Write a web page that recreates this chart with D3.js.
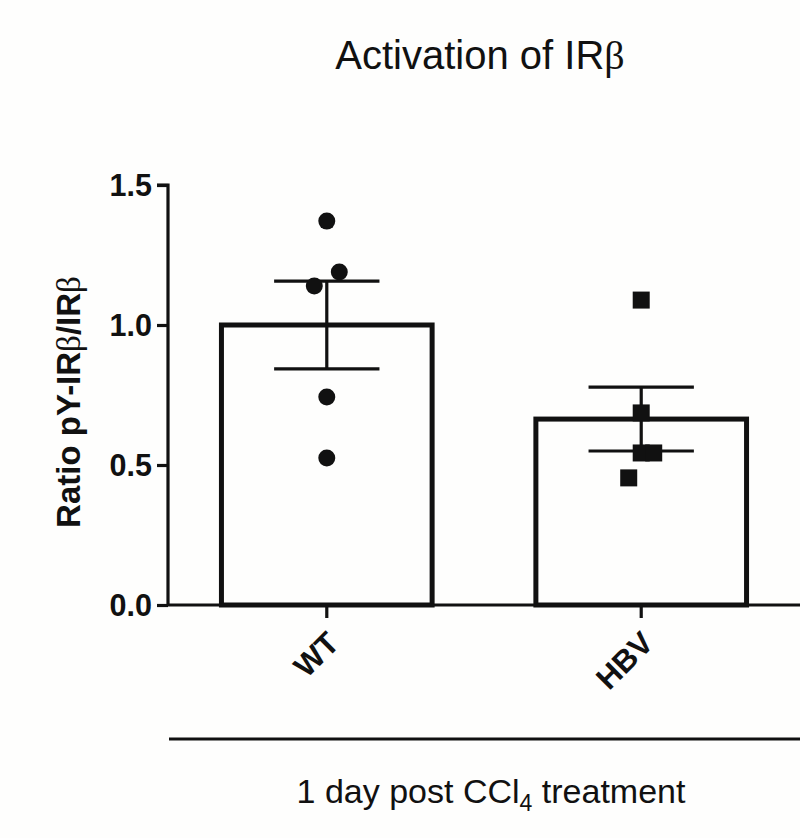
<!DOCTYPE html>
<html>
<head>
<meta charset="utf-8">
<script src="https://cdn.jsdelivr.net/npm/d3@7/dist/d3.min.js"></script>
<style>
  html, body { margin: 0; padding: 0; background: #fefefd; }
  svg { display: block; }
  text { font-family: "Liberation Sans", Arial, sans-serif; fill: #111; }
</style>
</head>
<body>
<script>
// ---- data ----
const categories = ["WT", "HBV"];
const means = [1.0, 0.664];
const sems = [0.157, 0.114];
const wtPoints = [1.371, 1.189, 1.139, 0.743, 0.525];
const hbvPoints = [1.089, 0.686, 0.543, 0.543, 0.454];
const wtJitter = [0, 1, -1, 0, 0];
const hbvJitter = [0, 0, 0, 1, -1];
const yTicks = [0.0, 0.5, 1.0, 1.5];
const titleText = "Activation of IR";
const yLabelText = "Ratio pY-IR";
const groupLabel = "1 day post CCl";

const W = 800, H = 838;
const ink = "#111";

const svg = d3.select("body").append("svg").attr("width", W).attr("height", H);
svg.append("rect").attr("width", W).attr("height", H).attr("fill", "#fefefd");

const x = d3.scaleBand().domain(categories).range([168, 800]).paddingInner(0.33).paddingOuter(0.17);
const y = d3.scaleLinear().domain([0, 1.5]).range([605, 185]);
const jitterStep = 12.5;

// bars
const bars = categories.map((c, i) => ({ c, m: means[i], s: sems[i] }));
svg.selectAll("rect.bar").data(bars).enter().append("rect")
  .attr("class", "bar")
  .attr("x", d => x(d.c))
  .attr("y", d => y(d.m))
  .attr("width", x.bandwidth())
  .attr("height", d => y(0) - y(d.m))
  .attr("fill", "none")
  .attr("stroke", ink)
  .attr("stroke-width", 5);

// error bars
const capHalf = x.bandwidth() * 0.25;
bars.forEach(d => {
  const cx = x(d.c) + x.bandwidth() / 2;
  const g = svg.append("g").attr("stroke", ink).attr("stroke-width", 3.2);
  g.append("line").attr("x1", cx).attr("x2", cx).attr("y1", y(d.m - d.s)).attr("y2", y(d.m + d.s));
  g.append("line").attr("x1", cx - capHalf).attr("x2", cx + capHalf).attr("y1", y(d.m + d.s)).attr("y2", y(d.m + d.s));
  g.append("line").attr("x1", cx - capHalf).attr("x2", cx + capHalf).attr("y1", y(d.m - d.s)).attr("y2", y(d.m - d.s));
});

// axes
const yAxis = d3.axisLeft(y).tickValues(yTicks).tickFormat(d3.format(".1f")).tickSize(11).tickPadding(5);
const gy = svg.append("g").attr("transform", "translate(168,0)").call(yAxis);
gy.select(".domain").attr("stroke", ink).attr("stroke-width", 3.2).attr("d", `M-11,${y(1.5)}H0V${y(0)}`);
gy.selectAll(".tick line").attr("stroke", ink).attr("stroke-width", 3.2);
gy.selectAll(".tick text").attr("font-size", 30.5).attr("font-weight", "bold").attr("fill", ink)
  .attr("font-family", "'Liberation Sans', Arial, sans-serif").attr("dy", "0.36em");

const xAxis = d3.axisBottom(x).tickSize(13).tickFormat("");
const gx = svg.append("g").attr("transform", `translate(0,${y(0)})`).call(xAxis);
gx.select(".domain").attr("stroke", ink).attr("stroke-width", 3.2).attr("d", "M168,0H800");
gx.selectAll(".tick line").attr("stroke", ink).attr("stroke-width", 3.2);

// rotated category labels
svg.selectAll("text.cat").data(categories).enter().append("text")
  .attr("class", "cat")
  .attr("transform", d => `translate(${x(d) + x.bandwidth() / 2 + 14},${y(0) + 40}) rotate(-45)`)
  .attr("text-anchor", "end")
  .attr("font-size", 31)
  .attr("font-weight", "bold")
  .text(d => d);

// points
const cxOf = (c, j) => x(c) + x.bandwidth() / 2 + j * jitterStep;
svg.selectAll("circle.pt").data(wtPoints.map((v, i) => ({ v, j: wtJitter[i] }))).enter().append("circle")
  .attr("class", "pt")
  .attr("cx", d => cxOf("WT", d.j))
  .attr("cy", d => y(d.v))
  .attr("r", 8.5)
  .attr("fill", ink);
const sq = 17;
svg.selectAll("rect.pt").data(hbvPoints.map((v, i) => ({ v, j: hbvJitter[i] }))).enter().append("rect")
  .attr("class", "pt")
  .attr("x", d => cxOf("HBV", d.j) - sq / 2)
  .attr("y", d => y(d.v) - sq / 2)
  .attr("width", sq).attr("height", sq)
  .attr("fill", ink);

// title
const t = svg.append("text").attr("x", 480).attr("y", 69).attr("text-anchor", "middle").attr("font-size", 40);
t.append("tspan").text(titleText);
t.append("tspan").attr("font-family", "'Liberation Serif', 'DejaVu Serif', serif").text("β");

// y label
const yl = svg.append("text").attr("transform", "translate(80,402) rotate(-90)")
  .attr("text-anchor", "middle").attr("font-size", 33).attr("font-weight", "bold");
yl.append("tspan").text(yLabelText);
yl.append("tspan").attr("font-family", "'Liberation Serif', 'DejaVu Serif', serif").attr("font-weight", "normal").text("β");
yl.append("tspan").text("/IR");
yl.append("tspan").attr("font-family", "'Liberation Serif', 'DejaVu Serif', serif").attr("font-weight", "normal").text("β");

// group line and label
svg.append("line").attr("x1", 169).attr("x2", 800).attr("y1", 739).attr("y2", 739)
  .attr("stroke", ink).attr("stroke-width", 3.2);
const gl = svg.append("text").attr("x", 491).attr("y", 803).attr("text-anchor", "middle").attr("font-size", 34);
gl.append("tspan").text(groupLabel);
gl.append("tspan").attr("font-size", 23).attr("dy", 8).text("4");
gl.append("tspan").attr("dy", -8).text(" treatment");
</script>
</body>
</html>
